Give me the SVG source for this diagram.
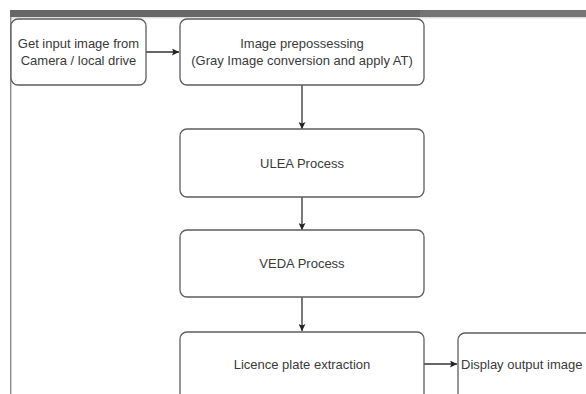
<svg xmlns="http://www.w3.org/2000/svg" width="586" height="394" viewBox="0 0 586 394">
  <defs>
    <style>
      .box { fill: #ffffff; stroke: #5e5e5e; stroke-width: 1.3; }
      .lbl { font-family: "Liberation Sans", Arial, Helvetica, sans-serif; font-size: 13px; fill: #3a3a3a; text-anchor: middle; }
      .edge { stroke: #333333; stroke-width: 1.3; fill: none; }
    </style>
    <marker id="arr" viewBox="0 0 10 10" refX="10" refY="5" markerWidth="7" markerHeight="7" markerUnits="userSpaceOnUse" orient="auto">
      <path d="M0,0 L10,5 L0,10 L2,5 Z" fill="#222222"/>
    </marker>
  </defs>
  <rect width="586" height="394" fill="#ffffff"/>
  <!-- window frame -->
  <rect x="10" y="10" width="410" height="7" fill="#676767"/>
  <rect x="420" y="10" width="166" height="7" fill="#757575"/>
  <line x1="10" y1="17.8" x2="586" y2="17.8" stroke="#cfcfcf" stroke-width="1"/>
  <line x1="10.7" y1="17" x2="10.7" y2="394" stroke="#8a8a8a" stroke-width="1.4"/>

  <g id="connectors">
    <line class="edge" x1="146" y1="52" x2="179" y2="52" marker-end="url(#arr)"/>
    <line class="edge" x1="302" y1="85" x2="302" y2="129" marker-end="url(#arr)"/>
    <line class="edge" x1="302" y1="197" x2="302" y2="230" marker-end="url(#arr)"/>
    <line class="edge" x1="302" y1="297" x2="302" y2="331" marker-end="url(#arr)"/>
    <line class="edge" x1="424" y1="364" x2="457" y2="364" marker-end="url(#arr)"/>
  </g>

  <g id="input">
    <rect class="box" x="11" y="19" width="135" height="66" rx="7"/>
    <text class="lbl" x="78.5" y="47.5">Get input image from</text>
    <text class="lbl" x="78.5" y="64.5">Camera / local drive</text>
  </g>
  <g id="preprocess">
    <rect class="box" x="180" y="19" width="244" height="66" rx="7"/>
    <text class="lbl" x="302" y="47.5">Image prepossessing</text>
    <text class="lbl" x="302" y="64.5">(Gray Image conversion and apply AT)</text>
  </g>
  <g id="ulea">
    <rect class="box" x="180" y="129" width="244" height="68" rx="7"/>
    <text class="lbl" x="302" y="167.5">ULEA Process</text>
  </g>
  <g id="veda">
    <rect class="box" x="180" y="230" width="244" height="67" rx="7"/>
    <text class="lbl" x="302" y="268">VEDA Process</text>
  </g>
  <g id="extraction">
    <rect class="box" x="180" y="332" width="244" height="70" rx="7"/>
    <text class="lbl" x="302" y="369">Licence plate extraction</text>
  </g>
  <g id="display">
    <rect class="box" x="458" y="333" width="140" height="70" rx="7"/>
    <text class="lbl" x="461" y="368.5" style="text-anchor:start">Display output image</text>
  </g>
</svg>
